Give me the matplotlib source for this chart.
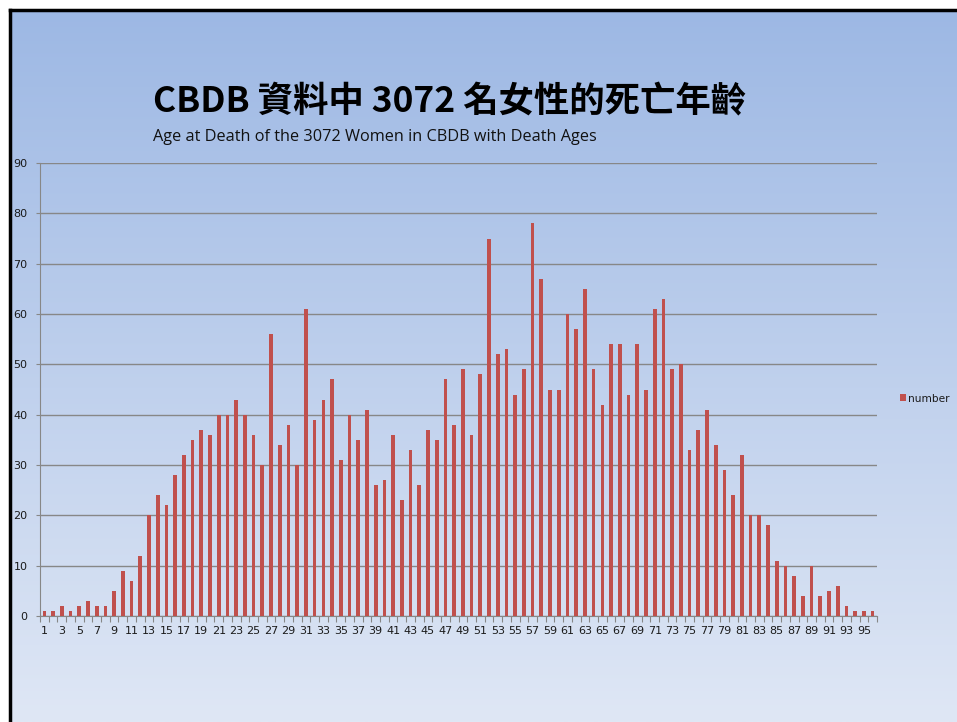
import numpy as np
import matplotlib
matplotlib.use("Agg")
from matplotlib import pyplot as plt
from matplotlib.colors import LinearSegmentedColormap

# dati: numero di donne per età di morte
ages = list(range(1, 97))
number = [1, 1, 2, 1, 2, 3, 2, 2, 5, 9, 7, 12,
          20, 24, 22, 28, 32, 35, 37, 36, 40, 40, 43,
          40, 36, 30, 56, 34, 38, 30, 61, 39, 43, 47,
          31, 40, 35, 41, 26, 27, 36, 23, 33, 26, 37, 35, 47, 38,
          49, 36, 48, 75, 52, 53, 44, 49, 78, 67, 45, 45,
          60, 57, 65, 49, 42, 54, 54, 44, 54, 45, 61, 63, 49, 50,
          33, 37, 41, 34, 29, 24, 32, 20, 20, 18, 11, 10, 8, 4, 10, 4, 5, 6, 2, 1, 1, 1]
yticks = list(range(0, 100, 10))

title = "CBDB 資料中 3072 名女性的死亡年齡"
subtitle = "Age at Death of the 3072 Women in CBDB with Death Ages"

W, H = 957, 722
fig = plt.figure(figsize=(W / 100, H / 100), dpi=100)
fig.patch.set_facecolor("white")

# sfondo sfumato con cornice nera in alto e a sinistra
bg = fig.add_axes([10 / W, 0, 1 - 10 / W, (H - 10) / H])
cmap = LinearSegmentedColormap.from_list("bg", ["#9db8e4", "#dfe7f5"])
bg.imshow(np.linspace(0, 1, 256).reshape(-1, 1), aspect="auto", cmap=cmap,
          extent=[0, 1, 0, 1])
bg.set_xticks([])
bg.set_yticks([])
for s in ["right", "bottom"]:
    bg.spines[s].set_visible(False)
for s in ["top", "left"]:
    bg.spines[s].set_linewidth(2.5)
    bg.spines[s].set_color("black")

ax = fig.add_axes([40 / W, (H - 616) / H, (877 - 40) / W, (616 - 163) / H])
ax.patch.set_alpha(0)
ax.bar(ages, number, width=0.42, color="#c0504d", label="number", zorder=3)

ax.set_xlim(0.5, 96.5)
ax.set_ylim(0, 90)
ax.set_yticks(yticks)
ax.yaxis.grid(True, color="#878787", linewidth=1.0, zorder=0)
ax.tick_params(axis="y", labelsize=8, colors="#878787", labelcolor="#1a1a1a",
               length=3, pad=6)
# tacche tra le categorie, etichette sulle età dispari
ax.set_xticks(np.arange(0.5, 97, 1))
ax.set_xticklabels([])
ax.tick_params(axis="x", which="major", length=4, colors="#878787")
ax.set_xticks(ages[::2], minor=True)
ax.set_xticklabels([str(a) for a in ages[::2]], minor=True)
ax.tick_params(axis="x", which="minor", length=0, labelsize=8,
               labelcolor="#1a1a1a", pad=7)
for s in ["top", "right"]:
    ax.spines[s].set_visible(False)
for s in ["left", "bottom"]:
    ax.spines[s].set_color("#878787")

leg = ax.legend(loc="center left", bbox_to_anchor=(1.016, 0.48), frameon=False,
                fontsize=7.6, handlelength=0.6, handleheight=0.6, handletextpad=0.2)
for t in leg.get_texts():
    t.set_color("#1a1a1a")

fig.text(153 / W, 1 - 102 / H, title, fontsize=25.5, fontweight="bold",
         family=["Noto Sans CJK TC", "DejaVu Sans"], va="center", ha="left")
fig.text(153 / W, 1 - 137 / H, subtitle, fontsize=11.7, family="Open Sans",
         va="center", ha="left", color="#111111")

fig.savefig("out.png", dpi=100)
